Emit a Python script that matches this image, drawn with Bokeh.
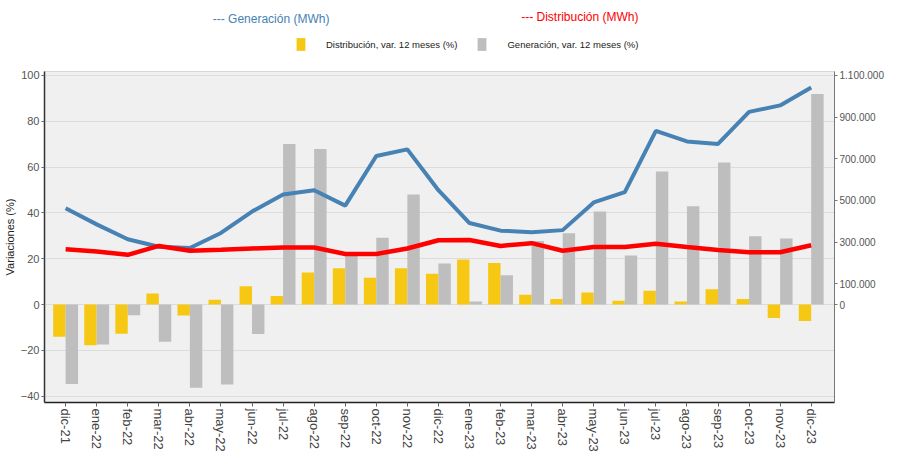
from bokeh.plotting import figure
from bokeh.models import (Range1d, LinearAxis, FixedTicker, Legend, LegendItem,
                          Label, ColumnDataSource)
from bokeh.transform import dodge
from bokeh.layouts import column
from bokeh.embed import file_html
from bokeh.resources import INLINE

months = ["dic-21", "ene-22", "feb-22", "mar-22", "abr-22", "may-22", "jun-22",
          "jul-22", "ago-22", "sep-22", "oct-22", "nov-22", "dic-22", "ene-23",
          "feb-23", "mar-23", "abr-23", "may-23", "jun-23", "jul-23", "ago-23",
          "sep-23", "oct-23", "nov-23", "dic-23"]

# Distribución, var. 12 meses (%)
dist_var = [-14.0, -17.7, -12.7, 4.8, -4.7, 2.1, 8.0, 3.8, 14.0, 15.9, 11.7, 15.9,
            13.5, 19.7, 18.2, 4.3, 2.4, 5.3, 1.7, 6.0, 1.4, 6.7, 2.4, -5.8, -7.1]

# Generación, var. 12 meses (%)
gen_var = [-34.6, -17.4, -4.6, -16.2, -36.3, -34.8, -12.8, 70.1, 67.9, 21.4, 29.2,
           48.0, 17.9, 1.4, 12.8, 27.8, 31.1, 40.6, 21.4, 58.1, 42.9, 62.0, 29.8,
           28.9, 91.9]

# Generación (MWh)
gen_mwh = [462000, 385000, 313500, 278000, 271500, 344000, 446500, 528000, 549000,
           475000, 713000, 745000, 549000, 391500, 355000, 347500, 357500, 490500,
           540000, 834000, 783000, 771000, 925000, 956000, 1042000]

# Distribución (MWh)
dist_mwh = [266000, 255000, 239000, 281500, 258500, 263000, 269500, 274000, 274000,
            243000, 243000, 269500, 309000, 310000, 281500, 295000, 258500, 277000,
            277000, 292500, 277000, 262000, 251000, 251000, 285000]

left_ticks = [-40, -20, 0, 20, 40, 60, 80, 100]
right_ticks = [0, 100000, 300000, 500000, 700000, 900000, 1100000]
right_tick_labels = ["0", "100.000", "300.000", "500.000", "700.000", "900.000",
                     "1.100.000"]

FONT = "Liberation Sans"
YELLOW = "#F6C814"
GREY = "#BEBEBE"
BLUE = "#4682B4"
RED = "#FF0000"
RATIO = 11000  # MWh per % unit (right axis vs left axis)

W, HEAD_H, MAIN_H = 886, 65, 389
HEAD_FRAME_W = 788  # header frame is aligned with the main chart's frame

src = ColumnDataSource(dict(x=list(range(len(months))), dist=dist_var, gen=gen_var,
                            gm=gen_mwh, dm=dist_mwh))

# ---------------- header: series titles + legend ----------------
head = figure(width=W, height=HEAD_H, output_backend="svg", toolbar_location=None,
              x_range=Range1d(0, HEAD_FRAME_W), y_range=Range1d(0, HEAD_H),
              x_axis_location=None, y_axis_location=None,
              min_border=0, outline_line_color=None)
head.xgrid.visible = False
head.ygrid.visible = False
head.background_fill_color = "white"

# legend-only renderers (hidden in the header)
h_y = head.vbar(x="x", top="dist", width=0.4, source=src, fill_color=YELLOW,
                line_color=None, visible=False)
h_g = head.vbar(x="x", top="gen", width=0.4, source=src, fill_color=GREY,
                line_color=None, visible=False)

head.add_layout(Label(x=226, y=47, text="--- Generación (MWh)", text_color=BLUE,
                      text_align="center", text_baseline="middle", text_font=FONT,
                      text_font_size="12px"))
head.add_layout(Label(x=534, y=49, text="--- Distribución (MWh)", text_color=RED,
                      text_align="center", text_baseline="middle", text_font=FONT,
                      text_font_size="12px"))

legend = Legend(items=[LegendItem(label="Distribución, var. 12 meses (%)", renderers=[h_y]),
                       LegendItem(label="Generación, var. 12 meses (%)", renderers=[h_g])],
                orientation="horizontal", location=(251, 13),
                glyph_width=11, glyph_height=16, label_height=16,
                label_standoff=20, spacing=19, padding=0, margin=0,
                label_text_font=FONT, label_text_font_size="9.5px",
                label_text_color="#222222", border_line_color=None,
                background_fill_alpha=0, inactive_fill_alpha=0)
head.add_layout(legend, "center")

# ---------------- main chart ----------------
p = figure(width=W, height=MAIN_H, output_backend="svg", toolbar_location=None,
           x_range=Range1d(-0.68, 24.75), y_range=Range1d(-42.7, 101.7),
           min_border_top=6, min_border_left=0, min_border_right=0,
           min_border_bottom=0)
p.extra_y_ranges = {"mwh": Range1d(-42.7 * RATIO, 101.7 * RATIO)}

p.background_fill_color = "#f0f0f0"
p.outline_line_color = "#d8d8d8"
p.xgrid.visible = False
p.ygrid.grid_line_color = "#dcdcdc"

p.vbar(x=dodge("x", -0.2), top="dist", bottom=0, width=0.4,
       source=src, fill_color=YELLOW, line_color=None)
p.vbar(x=dodge("x", 0.2), top="gen", bottom=0, width=0.4,
       source=src, fill_color=GREY, line_color=None)

p.line("x", "gm", source=src, y_range_name="mwh", line_color=BLUE, line_width=4)
p.line("x", "dm", source=src, y_range_name="mwh", line_color=RED, line_width=4.5)

# x axis
xa = p.xaxis[0]
xa.ticker = FixedTicker(ticks=list(range(len(months))))
xa.major_label_overrides = {i: m for i, m in enumerate(months)}
xa.major_label_orientation = "vertical"
xa.major_label_text_font = FONT
xa.major_label_text_font_size = "13px"
xa.major_label_text_color = "#444444"
xa.major_label_standoff = 2
xa.axis_line_color = "#222222"
xa.axis_line_width = 1.5
xa.major_tick_out = 4
xa.major_tick_in = 0
xa.major_tick_line_color = "#666666"
xa.minor_tick_line_color = None

# left axis
ya = p.yaxis[0]
ya.ticker = FixedTicker(ticks=left_ticks)
ya.axis_label = "Variaciones (%)"
ya.axis_label_text_font = FONT
ya.axis_label_text_font_style = "normal"
ya.axis_label_text_font_size = "11px"
ya.axis_label_text_color = "#222222"
ya.axis_label_standoff = 2
ya.major_label_text_font = FONT
ya.major_label_text_font_size = "11px"
ya.major_label_text_color = "#555555"
ya.major_label_standoff = 2
ya.axis_line_color = "#333333"
ya.axis_line_width = 1.5
ya.major_tick_out = 3
ya.major_tick_in = 0
ya.major_tick_line_color = "#666666"
ya.minor_tick_line_color = None

# right axis
ra = LinearAxis(y_range_name="mwh", ticker=FixedTicker(ticks=right_ticks))
ra.major_label_overrides = dict(zip(right_ticks, right_tick_labels))
ra.major_label_text_font = FONT
ra.major_label_text_font_size = "10px"
ra.major_label_text_color = "#555555"
ra.major_label_standoff = 2
ra.axis_line_color = "#777777"
ra.major_tick_out = 3
ra.major_tick_in = 0
ra.major_tick_line_color = "#777777"
ra.minor_tick_line_color = None
p.add_layout(ra, "right")

layout = column(head, p, spacing=0)
open("out.html", "w").write(file_html(layout, INLINE))
